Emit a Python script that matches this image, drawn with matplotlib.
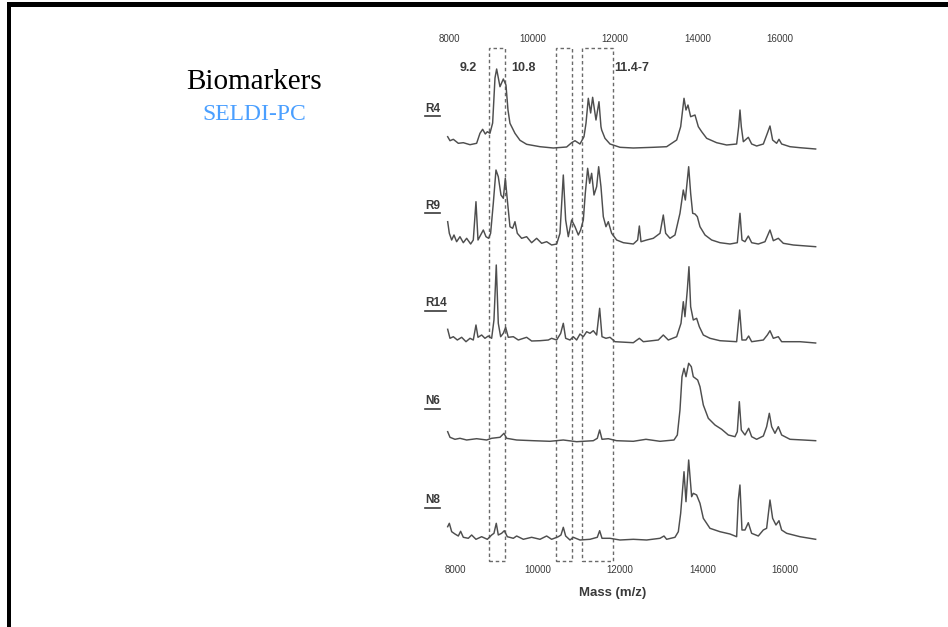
import matplotlib
matplotlib.use("Agg")
import matplotlib.pyplot as plt
from matplotlib.patches import Rectangle
from matplotlib.lines import Line2D
import numpy as np

# SELDI spectra, (mass m/z, intensity above the trace baseline)
r4 = [(7823, 11.3), (7879, 7.3), (7960, 8.7), (8081, 4.7), (8202, 5.3), (8364, 3.3),
      (8525, 4.7), (8606, 14.7), (8671, 18.7), (8735, 14.0), (8784, 16.3), (8848, 14.7),
      (8913, 25.0), (8970, 70.0), (9010, 79.0), (9091, 61.3), (9172, 69.0), (9236, 63.0),
      (9285, 38.0), (9333, 24.7), (9454, 14.7), (9576, 7.7), (9737, 3.7), (10061, 1.3),
      (10384, 0.0), (10707, 1.0), (10828, 5.3), (10909, 7.3), (11030, 4.0), (11127, 11.3),
      (11176, 24.7), (11232, 49.7), (11289, 35.0), (11337, 50.7), (11418, 28.0),
      (11491, 46.3), (11539, 21.3), (11556, 18.0), (11636, 9.7), (11758, 4.0),
      (12000, 0.7), (12323, 0.0), (12808, 0.7), (13131, 1.3), (13374, 8.0), (13471, 21.3),
      (13552, 49.7), (13600, 38.0), (13648, 43.0), (13713, 31.3), (13818, 33.0),
      (13899, 21.3), (13980, 16.3), (14101, 9.7), (14343, 5.3), (14586, 3.0), (14828, 4.0),
      (14877, 21.3), (14909, 38.0), (14941, 21.3), (14990, 6.3), (15111, 10.7),
      (15192, 4.0), (15313, 2.0), (15475, 4.0), (15572, 14.7), (15636, 22.0), (15700, 8.0),
      (15797, 4.7), (15854, 8.7), (15919, 4.0), (16121, 1.3), (16363, 0.3), (16743, -1.0)]

r9 = [(7823, 23.3), (7863, 11.7), (7920, 5.0), (7976, 10.0), (8040, 3.3), (8121, 8.3),
      (8202, 2.3), (8283, 6.7), (8380, 1.0), (8444, 5.0), (8509, 43.3), (8558, 5.0),
      (8622, 10.0), (8687, 15.0), (8752, 8.3), (8816, 6.7), (8864, 11.7), (8929, 41.7),
      (8994, 75.0), (9050, 68.3), (9115, 50.0), (9172, 46.7), (9220, 66.7), (9269, 45.0),
      (9333, 18.3), (9398, 16.7), (9454, 23.3), (9511, 11.7), (9616, 6.7), (9737, 8.3),
      (9858, 2.3), (9980, 6.7), (10101, 1.7), (10222, 3.3), (10343, 0.0), (10465, 1.0),
      (10545, 11.7), (10626, 70.0), (10683, 25.0), (10747, 8.3), (10828, 25.0),
      (10909, 18.3), (10990, 10.0), (11046, 15.0), (11111, 25.0), (11159, 51.7),
      (11216, 76.7), (11265, 61.7), (11313, 71.7), (11370, 50.0), (11434, 58.3),
      (11483, 78.3), (11539, 58.3), (11596, 28.3), (11660, 18.3), (11717, 23.3),
      (11798, 11.7), (11919, 5.0), (12081, 2.3), (12323, 1.0), (12428, 5.0), (12469, 19.0),
      (12509, 3.3), (12646, 5.0), (12808, 6.7), (12970, 11.7), (13050, 30.0), (13107, 11.7),
      (13212, 6.7), (13333, 10.0), (13454, 31.7), (13535, 55.0), (13584, 45.0),
      (13665, 78.3), (13713, 51.7), (13762, 31.7), (13818, 31.0), (13875, 28.3),
      (13939, 18.3), (14061, 10.0), (14222, 5.0), (14424, 2.3), (14667, 1.0), (14844, 2.3),
      (14909, 31.7), (14957, 5.0), (15030, 3.3), (15111, 9.0), (15192, 2.3), (15353, 1.0),
      (15515, 3.3), (15636, 15.0), (15717, 4.3), (15838, 6.7), (15959, 1.7), (16202, 0.0),
      (16743, -1.7)]

r14 = [(7823, 12.7), (7879, 3.7), (7960, 5.3), (8057, 2.0), (8162, 4.7), (8267, 0.3),
       (8364, 3.7), (8444, 2.0), (8509, 17.0), (8558, 4.7), (8646, 7.0), (8727, 3.7),
       (8808, 6.0), (8889, 3.7), (8945, 22.0), (9001, 77.0), (9050, 18.7), (9107, 5.3),
       (9172, 8.7), (9228, 14.7), (9292, 4.7), (9414, 5.3), (9535, 2.0), (9737, 4.7),
       (9858, 1.0), (10061, 1.3), (10263, 2.0), (10343, 3.7), (10465, 2.0), (10562, 8.7),
       (10626, 18.7), (10683, 3.7), (10788, 2.0), (10869, 5.3), (10949, 2.0), (11030, 8.0),
       (11111, 5.3), (11192, 10.3), (11273, 8.7), (11353, 11.3), (11434, 7.0),
       (11507, 33.7), (11564, 5.3), (11660, 3.7), (11758, 4.7), (11879, 0.3), (12323, -0.7),
       (12469, 3.7), (12566, 0.3), (12929, 2.0), (13050, 7.0), (13171, 2.0), (13374, 5.3),
       (13479, 18.7), (13535, 40.3), (13575, 25.3), (13632, 52.0), (13672, 75.3),
       (13713, 35.3), (13777, 22.0), (13858, 23.7), (13923, 15.3), (14020, 7.0),
       (14182, 3.7), (14424, 1.3), (14828, 0.3), (14901, 32.0), (14957, 2.0), (15054, 2.0),
       (15119, 6.0), (15192, 0.3), (15475, 2.0), (15572, 7.0), (15636, 11.3), (15717, 3.7),
       (15838, 5.3), (15919, 0.3), (16363, 0.3), (16743, -1.0)]

n6 = [(7823, 8.3), (7879, 2.7), (8000, 0.7), (8121, 1.7), (8283, 0.0), (8525, 1.3),
      (8768, 0.0), (8889, 1.7), (9091, 2.7), (9188, 6.7), (9252, 1.7), (9495, 0.0),
      (9899, -0.7), (10303, -1.3), (10626, 0.0), (10949, -1.7), (11353, -0.7),
      (11450, 1.7), (11507, 10.0), (11564, 0.7), (11717, 1.3), (11919, -0.7),
      (12323, -1.3), (12630, 0.7), (12970, -1.3), (13309, 0.0), (13390, 5.0),
      (13454, 30.0), (13503, 63.3), (13552, 71.7), (13600, 63.3), (13665, 76.7),
      (13729, 73.3), (13777, 63.3), (13883, 60.0), (13939, 53.3), (14020, 35.0),
      (14141, 21.7), (14303, 15.0), (14465, 10.7), (14626, 5.0), (14788, 3.3),
      (14844, 8.3), (14893, 38.3), (14941, 10.0), (15030, 5.0), (15119, 11.7),
      (15192, 3.3), (15313, 0.7), (15475, 4.0), (15555, 13.3), (15620, 26.7),
      (15677, 13.3), (15757, 6.7), (15838, 13.3), (15919, 5.0), (16121, 0.7),
      (16444, 0.0), (16743, -0.7)]

n8 = [(7823, 12.3), (7863, 15.7), (7920, 7.3), (8000, 5.0), (8081, 3.0), (8137, 7.7),
      (8202, 1.7), (8323, 0.7), (8404, 4.0), (8509, -0.3), (8646, 2.3), (8784, -0.3),
      (8889, 4.0), (8945, 5.7), (9001, 15.7), (9050, 4.0), (9131, 5.7), (9196, 8.3),
      (9269, 2.3), (9414, 0.7), (9495, 3.0), (9657, -0.3), (9858, 1.7), (10061, -0.3),
      (10222, 3.0), (10343, -0.3), (10505, 2.3), (10570, 4.0), (10626, 11.7),
      (10683, 3.0), (10788, -1.0), (10869, 1.7), (11030, -1.0), (11273, -0.3),
      (11450, 1.7), (11507, 8.3), (11564, 0.7), (11758, 0.7), (12000, -1.0),
      (12323, -0.3), (12646, -1.0), (12970, 0.7), (13067, 3.0), (13131, -0.3),
      (13333, 1.7), (13414, 7.3), (13471, 25.7), (13552, 67.3), (13600, 37.3),
      (13665, 79.0), (13737, 42.3), (13777, 45.7), (13858, 44.0), (13939, 35.7),
      (14020, 20.7), (14181, 10.7), (14424, 7.3), (14666, 5.0), (14828, 2.3),
      (14868, 39.0), (14908, 54.0), (14957, 9.0), (15030, 9.0), (15110, 16.3),
      (15191, 5.7), (15353, 3.0), (15474, 9.0), (15555, 10.7), (15636, 39.0),
      (15700, 20.7), (15781, 14.0), (15854, 18.3), (15918, 9.0), (16040, 5.7),
      (16363, 2.3), (16743, -0.3)]

names = ["R4", "R9", "R14", "N6", "N8"]
spectra = [r4, r9, r14, n6, n8]

# biomarker windows (m/z) and their labels
windows = [(8820, 9210), (10450, 10830), (11080, 11825)]
win_labels = ["9.2", "10.8", "11.4-7"]
mass_ticks = [8000, 10000, 12000, 14000, 16000]

# vertical stacking of the traces
offsets = [413, 316, 219, 121, 22]
line_col = "#4e4e4e"
text_col = "#3a3a3a"

W, H = 948, 627
fig = plt.figure(figsize=(W / 100, H / 100), dpi=100)
fig.patch.set_facecolor("white")

ax_l, ax_r, ax_b, ax_t = 426.1, 826.25, 561, 48
ax = fig.add_axes([ax_l / W, 1 - ax_b / H, (ax_r - ax_l) / W, (ax_b - ax_t) / H])
ax.set_xlim(7300, 17000)
ax.set_ylim(0, ax_b - ax_t)
ax.set_yticks([])
for s in ax.spines.values():
    s.set_visible(False)

for name, spec, off in zip(names, spectra, offsets):
    m, inten = np.array(spec).T
    ax.plot(m, inten + off, color=line_col, lw=1.05, solid_joinstyle="round")

for (x0, x1) in windows:
    ax.add_patch(Rectangle((x0, 0), x1 - x0, ax_b - ax_t, fill=False,
                           ec="#6a6a6a", lw=1.0, ls=(0, (2.5, 2)), clip_on=False))

ax.text(8315, 493, win_labels[0], ha="center", va="center", fontsize=9,
        fontweight="bold", color=text_col, family="Liberation Sans")
ax.text(9648, 493, win_labels[1], ha="center", va="center", fontsize=9,
        fontweight="bold", color=text_col, family="Liberation Sans")
ax.text(11862, 493, win_labels[2], ha="left", va="center", fontsize=9,
        fontweight="bold", color=text_col, family="Liberation Sans")

name_texts = []
for name, off in zip(names, offsets):
    t = ax.text(7270, off + 39, name, ha="left", va="center", fontsize=8.5,
                fontweight="bold", color=text_col, family="Liberation Sans",
                clip_on=False)
    name_texts.append(t)

# bottom mass axis, top axis printed slightly left of it
ax.set_xticks(mass_ticks)
ax.tick_params(axis="x", length=0, pad=3.2, labelsize=7, labelcolor=text_col)
for lab in ax.get_xticklabels():
    lab.set_family("Liberation Sans")
top = ax.secondary_xaxis("top", functions=(lambda x: x + 126, lambda x: x - 126))
top.set_xticks(mass_ticks)
top.tick_params(axis="x", length=0, pad=3.2, labelsize=7, labelcolor=text_col)
for lab in top.get_xticklabels():
    lab.set_family("Liberation Sans")
top.spines["top"].set_visible(False)

fig.text(613 / W, 1 - 593 / H, "Mass (m/z)", ha="center", va="center", fontsize=9.5,
         fontweight="bold", color=text_col, family="Liberation Sans")

# slide title
fig.text(254 / W, 1 - 82 / H, "Biomarkers", ha="center", va="center", fontsize=21,
         color="black", family="Liberation Serif")
fig.text(254 / W, 1 - 115 / H, "SELDI-PC", ha="center", va="center", fontsize=17,
         color="#4a9fff", family="Liberation Serif")

# slide frame: top and left bars
fig.add_artist(Rectangle((7 / W, 1 - 7 / H), 1, 5 / H, transform=fig.transFigure,
                         color="black", lw=0))
fig.add_artist(Rectangle((7 / W, 0), 4 / W, 1 - 2 / H, transform=fig.transFigure,
                         color="black", lw=0))

# underline the sample names
fig.canvas.draw()
inv = fig.transFigure.inverted()
for t in name_texts:
    bb = t.get_window_extent().transformed(inv)
    y = bb.y0 - 1.5 / H
    fig.add_artist(Line2D([bb.x0, bb.x1], [y, y], transform=fig.transFigure,
                          color=text_col, lw=1.2))

fig.savefig("out.png", dpi=100, facecolor="white")
